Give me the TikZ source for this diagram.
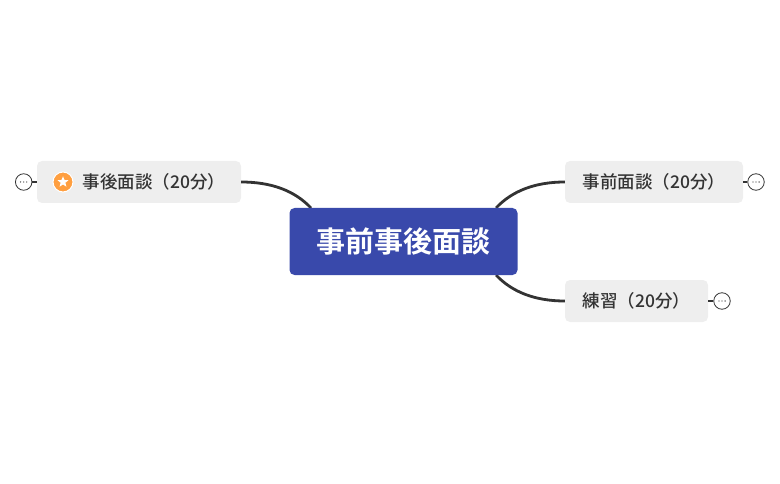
\documentclass[tikz,border=0pt]{standalone}
\usepackage{fontspec}
\usepackage{tikz}
\usetikzlibrary{
	positioning,
	shapes.geometric
}
\newfontfamily\cjkfont{Noto Sans CJK JP Medium}
\newfontfamily\cjkbold{Noto Sans CJK JP Bold}
\definecolor{rootblue}{HTML}{3949AB}
\definecolor{topicgray}{HTML}{EEEEEE}
\definecolor{inkgray}{HTML}{333333}
\definecolor{staramber}{HTML}{FF9F40}
\tikzset{
	root/.style={fill=rootblue, rounded corners=5pt, minimum width=228pt, minimum height=67pt, inner sep=0pt, text=white, font=\cjkbold\fontsize{29}{29}\selectfont},
	topic/.style={fill=topicgray, rounded corners=5pt, minimum height=42pt, inner sep=0pt, text=inkgray, font=\cjkfont\fontsize{17.5}{17.5}\selectfont},
	branch/.style={draw=inkgray, line width=2.8pt},
	stub/.style={draw=inkgray, line width=1.6pt},
	fold/.style={circle, draw=inkgray, fill=white, line width=0.8pt, minimum size=16.5pt, inner sep=0pt,
		path picture={
			\foreach \dotx in {-3.1,0,3.1}
				\fill[inkgray] ([xshift=\dotx pt]path picture bounding box.center) circle (0.65pt);
		}}
}
\begin{document}
\begin{tikzpicture}[x=1pt, y=1pt]
	\useasboundingbox (0,0) rectangle (780,483);

	\coordinate (joinL) at (311,275);
	\coordinate (joinR) at (496,275);
	\coordinate (joinS) at (496,208);

	\node[topic, minimum width=204pt] (after) at (139,301) {\hspace*{30pt}事後面談（20分）};
	\node[topic, minimum width=178pt] (before) at (654,301) {事前面談（20分）};
	\node[topic, minimum width=143pt] (practice) at (636.5,182) {練習（20分）};

	\draw[branch] (after.east) .. controls (272,301) and (295,292) .. (joinL);
	\draw[branch] (before.west) .. controls (535,301) and (512,292) .. (joinR);
	\draw[branch] (practice.west) .. controls (535,182) and (512,191) .. (joinS);

	\node[root] (main) at (403.5,241.5) {事前事後面談};

	\node[circle, fill=staramber, draw=white, line width=1pt, minimum size=20pt, inner sep=0pt] (badge) at (63,301) {};
	\node[star, star points=5, star point ratio=2.3, fill=white, minimum size=11.5pt, inner sep=0pt] (badgestar) at (badge) {};

	\node[fold] (foldA) at (23.7,301) {};
	\node[fold] (foldB) at (756,301) {};
	\node[fold] (foldC) at (722,182) {};

	\draw[stub] (foldA) -- (after);
	\draw[stub] (foldB) -- (before);
	\draw[stub] (foldC) -- (practice);
\end{tikzpicture}
\end{document}
